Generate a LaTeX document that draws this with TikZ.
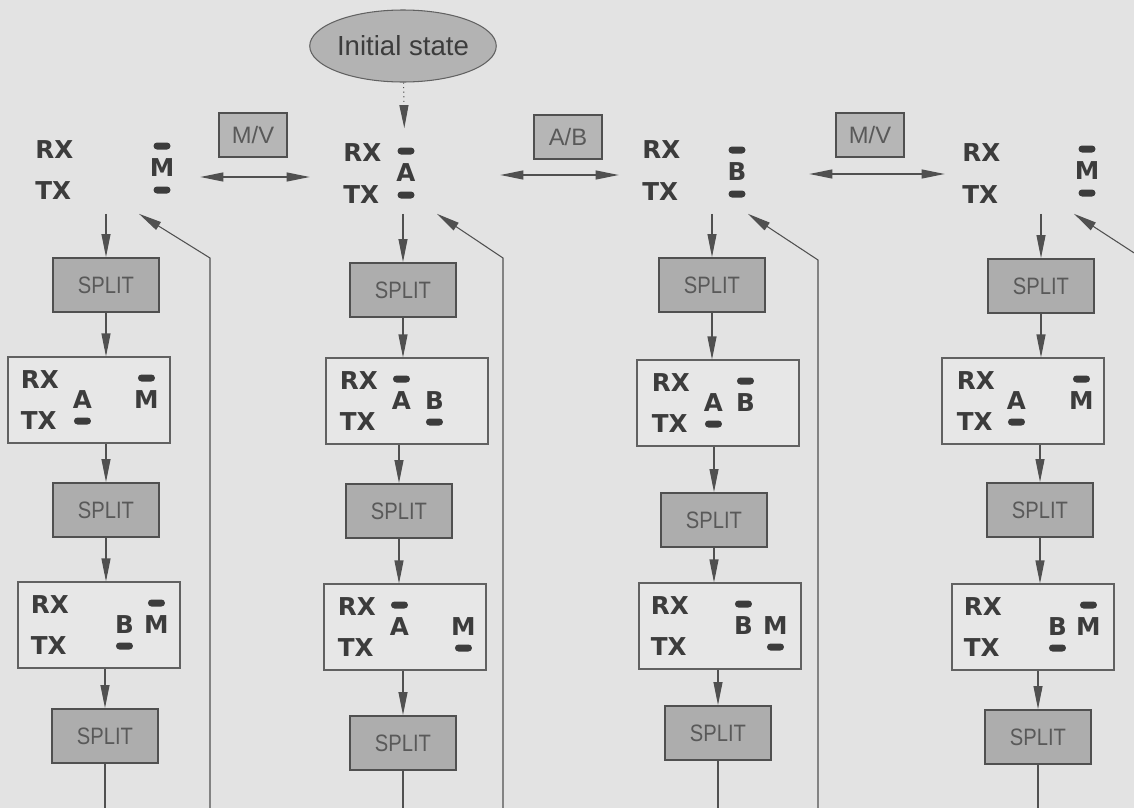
\documentclass[tikz,border=0pt]{standalone}
\usepackage{fontspec}
\setmainfont{Liberation Sans}
\newfontfamily\tagfont{DejaVu Sans}
\newfontfamily\splitfont[FakeStretch=0.85]{Liberation Sans}
\usetikzlibrary{arrows.meta,calc,shapes.geometric}

\definecolor{paper}{HTML}{E3E3E3}
\definecolor{ink}{HTML}{3C3C3C}
\definecolor{wire}{HTML}{505050}
\definecolor{splitfill}{HTML}{ADADAD}
\definecolor{ovalfill}{HTML}{B3B3B3}
\definecolor{modefill}{HTML}{B6B6B6}
\definecolor{statefill}{HTML}{E7E7E7}

% letter of a channel with its bars (positive = RX side, negative = TX side)
\newcommand{\lamp}[4]{%
  \node[lamp] (#1) at #2 {#3};
  \foreach \dy in {#4}
    \fill[bar] ($(#1)+(-0.17,\dy)+(0,-0.07)$) rectangle ($(#1)+(0.17,\dy)+(0,0.07)$);
}

\begin{document}
\begin{tikzpicture}[>={Triangle[length=0.46cm,width=0.18cm]},
  splitbox/.style={draw=wire,line width=1.1pt,fill=splitfill,minimum width=2.12cm,minimum height=1.08cm,
    inner sep=0pt,text=ink!85,font=\splitfont\fontsize{13.5pt}{15pt}\selectfont},
  statebox/.style={draw=wire!90,line width=0.6pt,fill=statefill,minimum width=3.24cm,minimum height=1.72cm,inner sep=0pt},
  topbox/.style={minimum width=3.8cm,minimum height=1.7cm,inner sep=0pt},
  modebox/.style={draw=wire,line width=0.9pt,fill=modefill,minimum width=1.36cm,minimum height=0.88cm,
    inner sep=0pt,text=ink!85,font=\fontsize{13.5pt}{15pt}\selectfont},
  oval/.style={ellipse,draw=wire!90,line width=0.6pt,fill=ovalfill,minimum width=3.32cm,minimum height=1.44cm,
    inner sep=0pt,text=ink,font=\fontsize{15.7pt}{18pt}\selectfont},
  tag/.style={inner sep=0pt,anchor=west,text=ink,font=\tagfont\bfseries\fontsize{14pt}{16pt}\selectfont},
  lamp/.style={inner sep=0pt,text=ink,font=\tagfont\bfseries\fontsize{14pt}{16pt}\selectfont},
  bar/.style={fill=ink,rounded corners=0.07cm},
  conn/.style={->,draw=wire,line width=0.6pt},
  conn2/.style={<->,draw=wire,line width=0.6pt},
  wire/.style={draw=wire,line width=0.6pt}]

\useasboundingbox (0,0) rectangle (22.68,-16.16);
\clip (0,0) rectangle (22.68,-16.16);
\fill[paper] (0,0) rectangle (22.68,-16.16);
\coordinate (floor) at (0,-16.3);

% initial state and the top states
\node[oval] (init) at (8.06,-0.92) {Initial state};

\node[topbox] (top1) at (2.1,-3.42) {};
\node[topbox] (top2) at (8.1,-3.42) {};
\node[topbox] (top3) at (14.28,-3.42) {};
\node[topbox] (top4) at (20.8,-3.42) {};

\node[tag] (top1rx) at (0.7,-3.0) {RX};
\node[tag] (top1tx) at (0.7,-3.82) {TX};
\lamp{top1m}{(3.24,-3.36)}{M}{0.44,-0.44}

\node[tag] (top2rx) at (6.86,-3.06) {RX};
\node[tag] (top2tx) at (6.86,-3.9) {TX};
\lamp{top2a}{(8.12,-3.46)}{A}{0.44,-0.44}

\node[tag] (top3rx) at (12.84,-3.0) {RX};
\node[tag] (top3tx) at (12.84,-3.84) {TX};
\lamp{top3b}{(14.74,-3.44)}{B}{0.44,-0.44}

\node[tag] (top4rx) at (19.24,-3.06) {RX};
\node[tag] (top4tx) at (19.24,-3.9) {TX};
\lamp{top4m}{(21.74,-3.42)}{M}{0.44,-0.44}

\draw[conn,dotted] (init) -- (top2);

% mode keys
\node[modebox] (mv1) at (5.06,-2.7) {M/V};
\node[modebox] (ab) at (11.36,-2.74) {A/B};
\node[modebox] (mv2) at (17.4,-2.7) {M/V};

\draw[conn2] ([yshift=-0.12cm]top1.east) -- ([yshift=-0.12cm]top2.west);
\draw[conn2] ([yshift=-0.08cm]top2.east) -- ([yshift=-0.08cm]top3.west);
\draw[conn2] ([yshift=-0.06cm]top3.east) -- ([yshift=-0.06cm]top4.west);

% column 1
\node[splitbox] (s11) at (2.12,-5.7) {SPLIT};
\node[statebox] (b11) at (1.78,-8.0) {};
\node[splitbox] (s12) at (2.12,-10.2) {SPLIT};
\node[statebox] (b12) at (1.98,-12.5) {};
\node[splitbox] (s13) at (2.1,-14.72) {SPLIT};

\node[tag] (b11rx) at ([xshift=0.26cm,yshift=0.4cm]b11.west) {RX};
\node[tag] (b11tx) at ([xshift=0.26cm,yshift=-0.42cm]b11.west) {TX};
\lamp{b11a}{([xshift=1.5cm]b11.west)}{A}{-0.42}
\lamp{b11m}{([xshift=2.78cm]b11.west)}{M}{0.44}

\node[tag] (b12rx) at ([xshift=0.26cm,yshift=0.4cm]b12.west) {RX};
\node[tag] (b12tx) at ([xshift=0.26cm,yshift=-0.42cm]b12.west) {TX};
\lamp{b12b}{([xshift=2.14cm]b12.west)}{B}{-0.42}
\lamp{b12m}{([xshift=2.78cm]b12.west)}{M}{0.44}

\draw[conn] (s11 |- top1.south) -- (s11.north);
\draw[conn] (s11.south) -- (s11.south |- b11.north);
\draw[conn] (s12 |- b11.south) -- (s12.north);
\draw[conn] (s12.south) -- (s12.south |- b12.north);
\draw[conn] (s13 |- b12.south) -- (s13.north);
\draw[wire] (s13.south) -- (s13.south |- floor);

% column 2
\node[splitbox] (s21) at (8.06,-5.8) {SPLIT};
\node[statebox] (b21) at (8.14,-8.02) {};
\node[splitbox] (s22) at (7.98,-10.22) {SPLIT};
\node[statebox] (b22) at (8.1,-12.54) {};
\node[splitbox] (s23) at (8.06,-14.86) {SPLIT};

\node[tag] (b21rx) at ([xshift=0.28cm,yshift=0.4cm]b21.west) {RX};
\node[tag] (b21tx) at ([xshift=0.28cm,yshift=-0.42cm]b21.west) {TX};
\lamp{b21a}{([xshift=1.52cm]b21.west)}{A}{0.44}
\lamp{b21b}{([xshift=2.18cm]b21.west)}{B}{-0.42}

\node[tag] (b22rx) at ([xshift=0.28cm,yshift=0.4cm]b22.west) {RX};
\node[tag] (b22tx) at ([xshift=0.28cm,yshift=-0.42cm]b22.west) {TX};
\lamp{b22a}{([xshift=1.52cm]b22.west)}{A}{0.44}
\lamp{b22m}{([xshift=2.8cm]b22.west)}{M}{-0.42}

\draw[conn] (s21 |- top2.south) -- (s21.north);
\draw[conn] (s21.south) -- (s21.south |- b21.north);
\draw[conn] (s22 |- b21.south) -- (s22.north);
\draw[conn] (s22.south) -- (s22.south |- b22.north);
\draw[conn] (s23 |- b22.south) -- (s23.north);
\draw[wire] (s23.south) -- (s23.south |- floor);

% column 3
\node[splitbox] (s31) at (14.24,-5.7) {SPLIT};
\node[statebox] (b31) at (14.36,-8.06) {};
\node[splitbox] (s32) at (14.28,-10.4) {SPLIT};
\node[statebox] (b32) at (14.4,-12.52) {};
\node[splitbox] (s33) at (14.36,-14.66) {SPLIT};

\node[tag] (b31rx) at ([xshift=0.3cm,yshift=0.4cm]b31.west) {RX};
\node[tag] (b31tx) at ([xshift=0.3cm,yshift=-0.42cm]b31.west) {TX};
\lamp{b31a}{([xshift=1.54cm]b31.west)}{A}{-0.42}
\lamp{b31b}{([xshift=2.18cm]b31.west)}{B}{0.44}

\node[tag] (b32rx) at ([xshift=0.24cm,yshift=0.4cm]b32.west) {RX};
\node[tag] (b32tx) at ([xshift=0.24cm,yshift=-0.42cm]b32.west) {TX};
\lamp{b32b}{([xshift=2.1cm]b32.west)}{B}{0.44}
\lamp{b32m}{([xshift=2.74cm]b32.west)}{M}{-0.42}

\draw[conn] (s31 |- top3.south) -- (s31.north);
\draw[conn] (s31.south) -- (s31.south |- b31.north);
\draw[conn] (s32 |- b31.south) -- (s32.north);
\draw[conn] (s32.south) -- (s32.south |- b32.north);
\draw[conn] (s33 |- b32.south) -- (s33.north);
\draw[wire] (s33.south) -- (s33.south |- floor);

% column 4
\node[splitbox] (s41) at (20.82,-5.72) {SPLIT};
\node[statebox] (b41) at (20.46,-8.02) {};
\node[splitbox] (s42) at (20.8,-10.2) {SPLIT};
\node[statebox] (b42) at (20.66,-12.54) {};
\node[splitbox] (s43) at (20.76,-14.74) {SPLIT};

\node[tag] (b41rx) at ([xshift=0.3cm,yshift=0.4cm]b41.west) {RX};
\node[tag] (b41tx) at ([xshift=0.3cm,yshift=-0.42cm]b41.west) {TX};
\lamp{b41a}{([xshift=1.5cm]b41.west)}{A}{-0.42}
\lamp{b41m}{([xshift=2.8cm]b41.west)}{M}{0.44}

\node[tag] (b42rx) at ([xshift=0.24cm,yshift=0.4cm]b42.west) {RX};
\node[tag] (b42tx) at ([xshift=0.24cm,yshift=-0.42cm]b42.west) {TX};
\lamp{b42b}{([xshift=2.12cm]b42.west)}{B}{-0.42}
\lamp{b42m}{([xshift=2.74cm]b42.west)}{M}{0.44}

\draw[conn] (s41 |- top4.south) -- (s41.north);
\draw[conn] (s41.south) -- (s41.south |- b41.north);
\draw[conn] (s42 |- b41.south) -- (s42.north);
\draw[conn] (s42.south) -- (s42.south |- b42.north);
\draw[conn] (s43 |- b42.south) -- (s43.north);
\draw[wire] (s43.south) -- (s43.south |- floor);

% return lines
\coordinate (ret1) at (4.2,-5.16);
\coordinate (ret2) at (10.06,-5.16);
\coordinate (ret3) at (16.36,-5.2);
\coordinate (ret4) at (22.9,-5.2);
\draw[conn] (ret1 |- floor) -- (ret1) -- ([xshift=0.68cm]top1.south);
\draw[conn] (ret2 |- floor) -- (ret2) -- ([xshift=0.64cm]top2.south);
\draw[conn] (ret3 |- floor) -- (ret3) -- ([xshift=0.68cm]top3.south);
\draw[conn] (ret4 |- floor) -- (ret4) -- ([xshift=0.68cm]top4.south);
\end{tikzpicture}
\end{document}
